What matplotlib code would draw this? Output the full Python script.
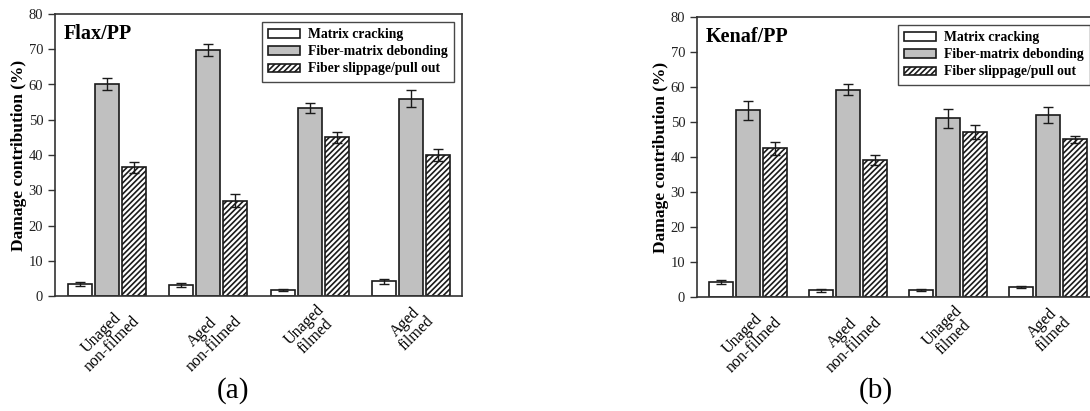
import numpy as np
import matplotlib
matplotlib.use('Agg')
from matplotlib import pyplot as plt


plt.rcParams['font.family'] = ['Liberation Serif', 'DejaVu Serif']
plt.rcParams['hatch.linewidth'] = 1.2

conditions = ['Unaged\nnon-filmed', 'Aged\nnon-filmed', 'Unaged\nfilmed', 'Aged\nfilmed']
mechanisms = ['Matrix cracking', 'Fiber-matrix debonding', 'Fiber slippage/pull out']

# Flax/PP damage contribution (%) and error bars
flax_cracking = [3.5, 3.2, 1.8, 4.2]
flax_cracking_err = [0.6, 0.6, 0.3, 0.7]
flax_debonding = [60.2, 69.8, 53.3, 56.0]
flax_debonding_err = [1.7, 1.8, 1.5, 2.5]
flax_pullout = [36.5, 27.0, 45.0, 40.0]
flax_pullout_err = [1.6, 1.8, 1.6, 1.7]

# Kenaf/PP damage contribution (%) and error bars
kenaf_cracking = [4.3, 1.9, 2.0, 2.9]
kenaf_cracking_err = [0.7, 0.5, 0.4, 0.3]
kenaf_debonding = [53.3, 59.2, 51.0, 52.0]
kenaf_debonding_err = [2.8, 1.6, 2.6, 2.2]
kenaf_pullout = [42.5, 39.1, 47.0, 45.0]
kenaf_pullout_err = [1.8, 1.4, 2.0, 1.1]

bar_styles = [
    dict(color='white', hatch=None),
    dict(color='#c0c0c0', hatch=None),
    dict(color='white', hatch='//////'),
]

W, H = 1090, 411


def draw_panel(ax, title, series, errors):
    x = np.arange(len(conditions))
    width = 0.237
    step = 0.267

    for i, (values, err, style, label) in enumerate(zip(series, errors, bar_styles, mechanisms)):
        ax.bar(
            x + (i - 1) * step,
            values,
            width=width,
            color=style['color'],
            hatch=style['hatch'],
            edgecolor='#1a1a1a',
            linewidth=1.2,
            label=label,
            yerr=err,
            error_kw=dict(ecolor='#1a1a1a', elinewidth=1.0, capsize=3.5, capthick=1.0),
        )

    ax.set_xlim(-0.51, 3.5)
    ax.set_ylim(0, 80)
    ax.set_yticks(range(0, 81, 10))
    ax.set_xticks(x)
    ax.set_xticklabels(conditions, rotation=45, ha='center', va='top',
                       multialignment='center', linespacing=1.0, fontsize=11.5)
    ax.tick_params(axis='x', length=0, pad=4)
    ax.tick_params(axis='y', direction='out', length=5, width=1, labelsize=10.5,
                   colors='#333333', labelcolor='#222222')
    for spine in ax.spines.values():
        spine.set_color('#333333')
        spine.set_linewidth(1.2)

    ax.set_ylabel('Damage contribution (%)', fontsize=12.5, fontweight='bold', labelpad=1)
    ax.text(0.022, 0.93, title, transform=ax.transAxes, fontsize=14.5,
            fontweight='bold', va='center', ha='left')

    leg = ax.legend(loc='upper right', bbox_to_anchor=(1, 1), borderaxespad=0.6,
                    prop=dict(weight='bold', size=9.8), fancybox=False,
                    edgecolor='#1a1a1a', handlelength=2.3, handleheight=0.55,
                    handletextpad=0.6, labelspacing=0.3, borderpad=0.45)
    leg.get_frame().set_linewidth(1.0)


fig = plt.figure(figsize=(W / 100, H / 100), dpi=100)

ax1 = fig.add_axes([55 / W, (H - 296) / H, 407 / W, 282 / H])
draw_panel(ax1, 'Flax/PP',
           [flax_cracking, flax_debonding, flax_pullout],
           [flax_cracking_err, flax_debonding_err, flax_pullout_err])

ax2 = fig.add_axes([697 / W, (H - 297) / H, 401 / W, 280 / H])
draw_panel(ax2, 'Kenaf/PP',
           [kenaf_cracking, kenaf_debonding, kenaf_pullout],
           [kenaf_cracking_err, kenaf_debonding_err, kenaf_pullout_err])

fig.text(233 / W, 1 - 391 / H, '(a)', fontsize=21, ha='center', va='center')
fig.text(876 / W, 1 - 391 / H, '(b)', fontsize=21, ha='center', va='center')

fig.savefig('out.png', dpi=100)
